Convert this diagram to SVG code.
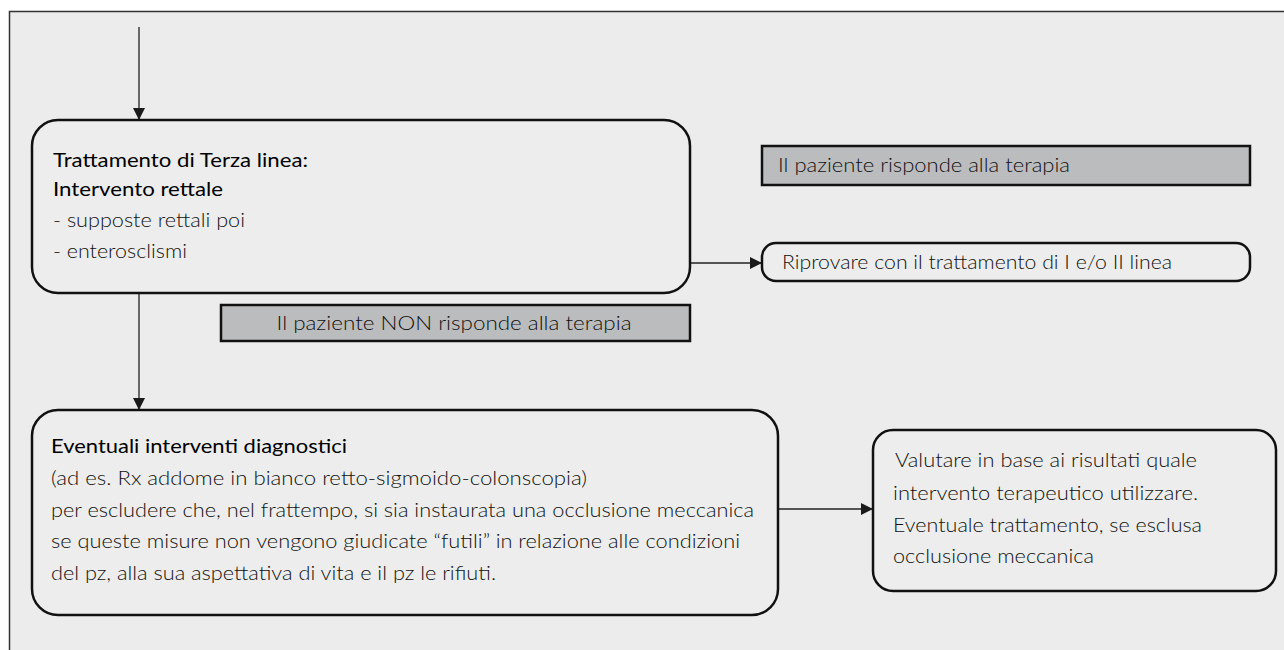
<svg xmlns="http://www.w3.org/2000/svg" width="1284" height="650" viewBox="0 0 1284 650">
<defs>
<style>
.t{font-family:Lato,"Liberation Sans",sans-serif;font-weight:300;font-size:19px;fill:#111}
.b{font-weight:400;fill:#000}
.box{fill:#ecedec;stroke:#111;stroke-width:2.5}
.lab{fill:#bbbcbd;stroke:#111;stroke-width:2.5}
.ln{stroke:#222;stroke-width:1.3;fill:none}
</style>
<marker id="ahv" viewBox="0 0 12 12" refX="12" refY="6" markerWidth="12" markerHeight="12" markerUnits="userSpaceOnUse" orient="auto">
<path d="M0,0 L12,6 L0,12 z" fill="#1a1a1a"/>
</marker>
</defs>
<rect x="0" y="0" width="1284" height="650" fill="#fff"/>
<rect x="9.5" y="11.5" width="1290" height="660" fill="#ebeceb" stroke="#333" stroke-width="1.5"/>

<g id="connectors">
<line class="ln" x1="139" y1="27" x2="139" y2="120" marker-end="url(#ahv)"/>
<line class="ln" x1="139" y1="293" x2="139" y2="410" marker-end="url(#ahv)"/>
<line class="ln" x1="690" y1="263" x2="762" y2="263" marker-end="url(#ahv)"/>
<line class="ln" x1="778" y1="509" x2="873" y2="509" marker-end="url(#ahv)"/>
</g>

<g id="n1">
<rect class="box" x="32" y="120" width="658" height="173" rx="26"/>
<text class="t b" x="53" y="167" textLength="255" lengthAdjust="spacingAndGlyphs">Trattamento di Terza linea:</text>
<text class="t b" x="53" y="196" textLength="170" lengthAdjust="spacingAndGlyphs">Intervento rettale</text>
<text class="t" x="53" y="227" textLength="192" lengthAdjust="spacingAndGlyphs">- supposte rettali poi</text>
<text class="t" x="53" y="258" textLength="134" lengthAdjust="spacingAndGlyphs">- enterosclismi</text>
</g>

<g id="n2">
<rect class="lab" x="762" y="146" width="488" height="39"/>
<text class="t" x="778" y="172" textLength="292" lengthAdjust="spacingAndGlyphs">Il paziente risponde alla terapia</text>
</g>

<g id="n3">
<rect class="box" x="762" y="243" width="488" height="38" rx="14"/>
<text class="t" x="782" y="269" textLength="390" lengthAdjust="spacingAndGlyphs">Riprovare con il trattamento di I e/o II linea</text>
</g>

<g id="n4">
<rect class="lab" x="221" y="305" width="469" height="36"/>
<text class="t" x="454" y="330" text-anchor="middle" textLength="355" lengthAdjust="spacingAndGlyphs">Il paziente NON risponde alla terapia</text>
</g>

<g id="n5">
<rect class="box" x="32" y="410" width="746" height="205" rx="26"/>
<text class="t b" x="51" y="453" textLength="296" lengthAdjust="spacingAndGlyphs">Eventuali interventi diagnostici</text>
<text class="t" x="51" y="485" textLength="536" lengthAdjust="spacingAndGlyphs">(ad es. Rx addome in bianco retto-sigmoido-colonscopia)</text>
<text class="t" x="51" y="517" textLength="703" lengthAdjust="spacingAndGlyphs">per escludere che, nel frattempo, si sia instaurata una occlusione meccanica</text>
<text class="t" x="51" y="548" textLength="689" lengthAdjust="spacingAndGlyphs">se queste misure non vengono giudicate “futili” in relazione alle condizioni</text>
<text class="t" x="51" y="580" textLength="445" lengthAdjust="spacingAndGlyphs">del pz, alla sua aspettativa di vita e il pz le rifiuti.</text>
</g>

<g id="n6">
<rect class="box" x="873" y="430" width="403" height="161" rx="20"/>
<text class="t" x="895" y="467" textLength="302" lengthAdjust="spacingAndGlyphs" style="font-size:20px">Valutare in base ai risultati quale</text>
<text class="t" x="893" y="500" textLength="305" lengthAdjust="spacingAndGlyphs" style="font-size:20px">intervento terapeutico utilizzare.</text>
<text class="t" x="893" y="532" textLength="309" lengthAdjust="spacingAndGlyphs" style="font-size:20px">Eventuale trattamento, se esclusa</text>
<text class="t" x="893" y="563" textLength="201" lengthAdjust="spacingAndGlyphs" style="font-size:20px">occlusione meccanica</text>
</g>
</svg>
